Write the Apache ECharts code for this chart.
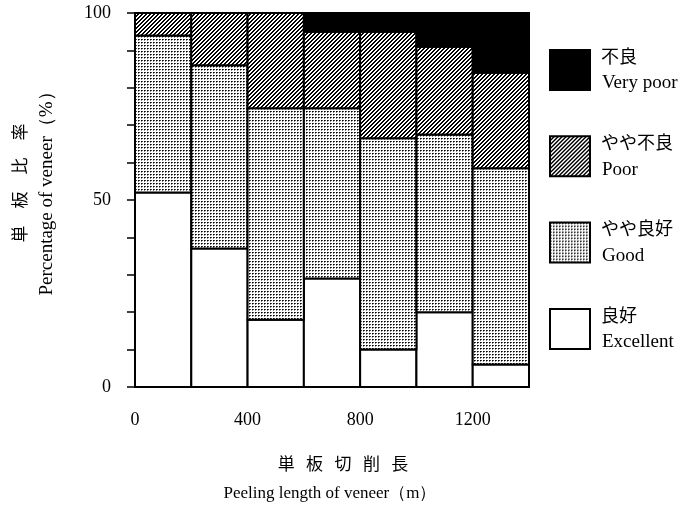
<!DOCTYPE html>
<html>
<head>
<meta charset="utf-8">
<script src="https://cdn.jsdelivr.net/npm/echarts@6/dist/echarts.min.js"></script>
<style>
  html, body { margin: 0; padding: 0; background: #fff; }
  #main { width: 689px; height: 507px; }
</style>
</head>
<body>
<div id="main"></div>
<script>
// 区間の始まり (m)、各区間の幅は 200 m
const lengthStart = [0, 200, 400, 600, 800, 1000, 1200];
const binWidth = 200;
// 単板比率 (%)
const excellent = [52, 37, 18, 29, 10, 20, 6];
const good      = [42, 49, 56.5, 45.5, 56.5, 47.5, 52.5];
const poor      = [6, 14, 25.5, 20.5, 28.5, 23.5, 25.5];
const veryPoor  = [0, 0, 0, 5, 5, 9, 16];
const xTicks = [0, 400, 800, 1200];

const serif = "'Liberation Serif', 'DejaVu Serif', serif";
const cjk = "'Noto Sans CJK JP', sans-serif";

// 網点パターン
function makeDots() {
  const c = document.createElement('canvas');
  c.width = 3; c.height = 3;
  const ctx = c.getContext('2d');
  ctx.fillStyle = '#fff'; ctx.fillRect(0, 0, 3, 3);
  ctx.fillStyle = '#000'; ctx.fillRect(0, 0, 1, 1);
  ctx.fillStyle = '#444'; ctx.fillRect(1, 0, 1, 1);
  ctx.fillStyle = '#888'; ctx.fillRect(0, 1, 1, 1);
  return c;
}
// 斜線パターン
function makeHatch() {
  const c = document.createElement('canvas');
  c.width = 4; c.height = 4;
  const ctx = c.getContext('2d');
  ctx.fillStyle = '#fff'; ctx.fillRect(0, 0, 4, 4);
  ctx.fillStyle = '#000';
  for (let y = 0; y < 4; y++) {
    ctx.fillRect(3 - y, y, 1, 1);
    ctx.fillRect((4 - y) % 4, y, 1, 1);
  }
  return c;
}
const dotFill = { image: makeDots(), repeat: 'repeat' };
const hatchFill = { image: makeHatch(), repeat: 'repeat' };

const layers = [
  { name: '良好', en: 'Excellent', values: excellent, fill: '#fff' },
  { name: 'やや良好', en: 'Good', values: good, fill: dotFill },
  { name: 'やや不良', en: 'Poor', values: poor, fill: hatchFill },
  { name: '不良', en: 'Very poor', values: veryPoor, fill: '#000' }
];

const base = lengthStart.map(() => 0);
const series = layers.map(layer => {
  const data = lengthStart.map((x, i) => {
    const b = base[i];
    base[i] += layer.values[i];
    return [x, x + binWidth, b, b + layer.values[i]];
  });
  return {
    name: layer.name,
    type: 'custom',
    data: data,
    renderItem: function (params, api) {
      if (api.value(3) - api.value(2) <= 0) return null;
      const p0 = api.coord([api.value(0), api.value(2)]);
      const p1 = api.coord([api.value(1), api.value(3)]);
      return {
        type: 'rect',
        shape: { x: p0[0], y: p1[1], width: p1[0] - p0[0], height: p0[1] - p1[1] },
        style: { fill: layer.fill, stroke: '#000', lineWidth: 2 }
      };
    }
  };
});

// 凡例（上から 不良 → 良好）
const legendGraphics = [];
layers.slice().reverse().forEach((layer, k) => {
  const top = 49 + k * 86.3;
  legendGraphics.push({
    type: 'rect', left: 549, top: top,
    shape: { width: 40, height: 40 },
    style: { fill: layer.fill, stroke: '#000', lineWidth: 2 }
  });
  legendGraphics.push({
    type: 'text', left: 601, top: top - 2,
    style: { text: layer.name, font: '18px ' + cjk, fill: '#000' }
  });
  legendGraphics.push({
    type: 'text', left: 602, top: top + 25,
    style: { text: layer.en, font: '19px ' + serif, fill: '#000' }
  });
});

const myChart = echarts.init(document.getElementById('main'));
myChart.setOption({
  animation: false,
  grid: { left: 135, right: 160, top: 13, bottom: 120 },
  xAxis: {
    type: 'value',
    min: 0, max: 1400, interval: 400,
    axisLine: { show: true, onZero: false, lineStyle: { color: '#000', width: 2 } },
    axisTick: { show: false },
    splitLine: { show: false },
    axisLabel: {
      margin: 24, color: '#000', fontSize: 18, fontFamily: serif,
      showMaxLabel: false,
      formatter: v => (xTicks.indexOf(v) >= 0 ? String(v) : '')
    }
  },
  yAxis: {
    type: 'value',
    min: 0, max: 100, interval: 50,
    axisLine: { show: true, lineStyle: { color: '#000', width: 2 } },
    axisTick: { show: true, length: 8, lineStyle: { color: '#000', width: 1.5 } },
    minorTick: { show: true, splitNumber: 5, length: 8, lineStyle: { color: '#000', width: 1.5 } },
    splitLine: { show: false },
    axisLabel: { margin: 24, color: '#000', fontSize: 18, fontFamily: serif }
  },
  series: series,
  graphic: legendGraphics.concat([
    {
      type: 'text', x: 20, y: 183, rotation: Math.PI / 2,
      style: { text: '単　板　比　率', font: '17px ' + cjk, fill: '#000', align: 'center', verticalAlign: 'middle' }
    },
    {
      type: 'text', x: 47, y: 189, rotation: Math.PI / 2,
      style: { text: 'Percentage of veneer（%）', font: '19px ' + serif, fill: '#000', align: 'center', verticalAlign: 'middle' }
    },
    {
      type: 'text', x: 343, y: 464,
      style: { text: '単   板   切   削   長', font: '17px ' + cjk, fill: '#000', align: 'center', verticalAlign: 'middle' }
    },
    {
      type: 'text', x: 330, y: 494,
      style: { text: 'Peeling length of veneer（m）', font: '17px ' + serif, fill: '#000', align: 'center', verticalAlign: 'middle' }
    }
  ])
});
</script>
</body>
</html>
